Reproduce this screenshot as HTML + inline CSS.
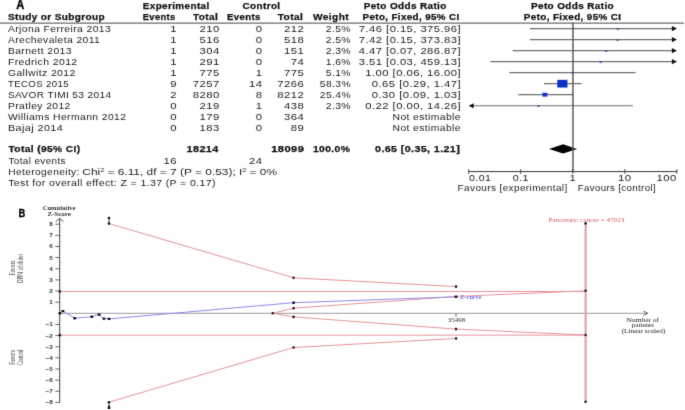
<!DOCTYPE html>
<html><head><meta charset="utf-8"><style>
html,body{margin:0;padding:0;background:#fff;}
body{width:685px;height:410px;overflow:hidden;font-family:"Liberation Sans",sans-serif;}
svg{display:block;}
</style></head><body>
<svg width="685" height="410" viewBox="0 0 685 410">
<defs><filter id="bl" x="0" y="0" width="1" height="1" filterUnits="objectBoundingBox"><feConvolveMatrix order="3" kernelMatrix="1 8 1 8 64 8 1 8 1" divisor="100" edgeMode="duplicate"/></filter></defs>
<rect width="685" height="410" fill="#fff"/>
<g filter="url(#bl)">
<text x="16.20" y="8.80" font-family='"Liberation Sans", sans-serif' font-size="12" font-weight="bold" fill="#000" textLength="8.00" lengthAdjust="spacingAndGlyphs" stroke="#000" stroke-width="0.35">A</text>
<text x="142.80" y="8.80" font-family='"Liberation Sans", sans-serif' font-size="9.2" font-weight="bold" fill="#111" textLength="66.80" lengthAdjust="spacingAndGlyphs" letter-spacing="0.35" stroke="#111" stroke-width="0.25">Experimental</text>
<text x="242.50" y="8.80" font-family='"Liberation Sans", sans-serif' font-size="9.2" font-weight="bold" fill="#111" textLength="38.00" lengthAdjust="spacingAndGlyphs" letter-spacing="0.35" stroke="#111" stroke-width="0.25">Control</text>
<text x="363.70" y="8.80" font-family='"Liberation Sans", sans-serif' font-size="9.2" font-weight="bold" fill="#111" textLength="83.00" lengthAdjust="spacingAndGlyphs" letter-spacing="0.35" stroke="#111" stroke-width="0.25">Peto Odds Ratio</text>
<text x="531.00" y="8.80" font-family='"Liberation Sans", sans-serif' font-size="9.2" font-weight="bold" fill="#111" textLength="83.00" lengthAdjust="spacingAndGlyphs" letter-spacing="0.35" stroke="#111" stroke-width="0.25">Peto Odds Ratio</text>
<text x="7.90" y="20.00" font-family='"Liberation Sans", sans-serif' font-size="9.2" font-weight="bold" fill="#111" textLength="97.10" lengthAdjust="spacingAndGlyphs" letter-spacing="0.35" stroke="#111" stroke-width="0.25">Study or Subgroup</text>
<text x="142.80" y="20.00" font-family='"Liberation Sans", sans-serif' font-size="9.2" font-weight="bold" fill="#111" textLength="32.70" lengthAdjust="spacingAndGlyphs" letter-spacing="0.35" stroke="#111" stroke-width="0.25">Events</text>
<text x="193.00" y="20.00" font-family='"Liberation Sans", sans-serif' font-size="9.2" font-weight="bold" fill="#111" textLength="25.30" lengthAdjust="spacingAndGlyphs" letter-spacing="0.35" stroke="#111" stroke-width="0.25">Total</text>
<text x="227.00" y="20.00" font-family='"Liberation Sans", sans-serif' font-size="9.2" font-weight="bold" fill="#111" textLength="33.70" lengthAdjust="spacingAndGlyphs" letter-spacing="0.35" stroke="#111" stroke-width="0.25">Events</text>
<text x="277.80" y="20.00" font-family='"Liberation Sans", sans-serif' font-size="9.2" font-weight="bold" fill="#111" textLength="25.40" lengthAdjust="spacingAndGlyphs" letter-spacing="0.35" stroke="#111" stroke-width="0.25">Total</text>
<text x="313.00" y="20.00" font-family='"Liberation Sans", sans-serif' font-size="9.2" font-weight="bold" fill="#111" textLength="36.00" lengthAdjust="spacingAndGlyphs" letter-spacing="0.35" stroke="#111" stroke-width="0.25">Weight</text>
<text x="362.60" y="20.00" font-family='"Liberation Sans", sans-serif' font-size="9.2" font-weight="bold" fill="#111" textLength="96.90" lengthAdjust="spacingAndGlyphs" letter-spacing="0.35" stroke="#111" stroke-width="0.25">Peto, Fixed, 95% CI</text>
<text x="523.80" y="20.00" font-family='"Liberation Sans", sans-serif' font-size="9.2" font-weight="bold" fill="#111" textLength="97.70" lengthAdjust="spacingAndGlyphs" letter-spacing="0.35" stroke="#111" stroke-width="0.25">Peto, Fixed, 95% CI</text>
<rect x="0" y="22.6" width="684" height="1.0" fill="#444"/>
<text x="7.90" y="32.10" font-family='"Liberation Sans", sans-serif' font-size="9.2" font-weight="normal" fill="#1e1e1e" textLength="103.30" lengthAdjust="spacingAndGlyphs" letter-spacing="0.35">Arjona Ferreira 2013</text>
<text x="170.26" y="32.10" font-family='"Liberation Sans", sans-serif' font-size="9.2" font-weight="normal" fill="#1e1e1e" textLength="6.74" lengthAdjust="spacingAndGlyphs" letter-spacing="0.35">1</text>
<text x="199.58" y="32.10" font-family='"Liberation Sans", sans-serif' font-size="9.2" font-weight="normal" fill="#1e1e1e" textLength="20.22" lengthAdjust="spacingAndGlyphs" letter-spacing="0.35">210</text>
<text x="255.86" y="32.10" font-family='"Liberation Sans", sans-serif' font-size="9.2" font-weight="normal" fill="#1e1e1e" textLength="6.74" lengthAdjust="spacingAndGlyphs" letter-spacing="0.35">0</text>
<text x="284.08" y="32.10" font-family='"Liberation Sans", sans-serif' font-size="9.2" font-weight="normal" fill="#1e1e1e" textLength="20.22" lengthAdjust="spacingAndGlyphs" letter-spacing="0.35">212</text>
<text x="325.72" y="32.10" font-family='"Liberation Sans", sans-serif' font-size="9.2" font-weight="normal" fill="#1e1e1e" textLength="25.28" lengthAdjust="spacingAndGlyphs" letter-spacing="0.35">2.5%</text>
<text x="358.89" y="32.10" font-family='"Liberation Sans", sans-serif' font-size="9.2" font-weight="normal" fill="#1e1e1e" textLength="102.11" lengthAdjust="spacingAndGlyphs" letter-spacing="0.35">7.46 [0.15, 375.96]</text>
<line x1="529.92" y1="28.60" x2="672.90" y2="28.60" stroke="#6e6e6e" stroke-width="1.2"/>
<path d="M676.90,28.60 L671.90,26.00 L671.90,31.20 Z" fill="#111"/>
<rect x="616.53" y="28.35" width="2.40" height="1.30" fill="#3535b0"/>
<text x="7.90" y="43.12" font-family='"Liberation Sans", sans-serif' font-size="9.2" font-weight="normal" fill="#1e1e1e" textLength="92.40" lengthAdjust="spacingAndGlyphs" letter-spacing="0.35">Arechevaleta 2011</text>
<text x="170.26" y="43.12" font-family='"Liberation Sans", sans-serif' font-size="9.2" font-weight="normal" fill="#1e1e1e" textLength="6.74" lengthAdjust="spacingAndGlyphs" letter-spacing="0.35">1</text>
<text x="199.58" y="43.12" font-family='"Liberation Sans", sans-serif' font-size="9.2" font-weight="normal" fill="#1e1e1e" textLength="20.22" lengthAdjust="spacingAndGlyphs" letter-spacing="0.35">516</text>
<text x="255.86" y="43.12" font-family='"Liberation Sans", sans-serif' font-size="9.2" font-weight="normal" fill="#1e1e1e" textLength="6.74" lengthAdjust="spacingAndGlyphs" letter-spacing="0.35">0</text>
<text x="284.08" y="43.12" font-family='"Liberation Sans", sans-serif' font-size="9.2" font-weight="normal" fill="#1e1e1e" textLength="20.22" lengthAdjust="spacingAndGlyphs" letter-spacing="0.35">518</text>
<text x="325.72" y="43.12" font-family='"Liberation Sans", sans-serif' font-size="9.2" font-weight="normal" fill="#1e1e1e" textLength="25.28" lengthAdjust="spacingAndGlyphs" letter-spacing="0.35">2.5%</text>
<text x="358.89" y="43.12" font-family='"Liberation Sans", sans-serif' font-size="9.2" font-weight="normal" fill="#1e1e1e" textLength="102.11" lengthAdjust="spacingAndGlyphs" letter-spacing="0.35">7.42 [0.15, 373.83]</text>
<line x1="529.92" y1="39.62" x2="672.90" y2="39.62" stroke="#6e6e6e" stroke-width="1.2"/>
<path d="M676.90,39.62 L671.90,37.02 L671.90,42.22 Z" fill="#111"/>
<rect x="616.40" y="39.37" width="2.40" height="1.30" fill="#3535b0"/>
<text x="7.90" y="54.14" font-family='"Liberation Sans", sans-serif' font-size="9.2" font-weight="normal" fill="#1e1e1e" textLength="64.00" lengthAdjust="spacingAndGlyphs" letter-spacing="0.35">Barnett 2013</text>
<text x="170.26" y="54.14" font-family='"Liberation Sans", sans-serif' font-size="9.2" font-weight="normal" fill="#1e1e1e" textLength="6.74" lengthAdjust="spacingAndGlyphs" letter-spacing="0.35">1</text>
<text x="199.58" y="54.14" font-family='"Liberation Sans", sans-serif' font-size="9.2" font-weight="normal" fill="#1e1e1e" textLength="20.22" lengthAdjust="spacingAndGlyphs" letter-spacing="0.35">304</text>
<text x="255.86" y="54.14" font-family='"Liberation Sans", sans-serif' font-size="9.2" font-weight="normal" fill="#1e1e1e" textLength="6.74" lengthAdjust="spacingAndGlyphs" letter-spacing="0.35">0</text>
<text x="284.08" y="54.14" font-family='"Liberation Sans", sans-serif' font-size="9.2" font-weight="normal" fill="#1e1e1e" textLength="20.22" lengthAdjust="spacingAndGlyphs" letter-spacing="0.35">151</text>
<text x="325.72" y="54.14" font-family='"Liberation Sans", sans-serif' font-size="9.2" font-weight="normal" fill="#1e1e1e" textLength="25.28" lengthAdjust="spacingAndGlyphs" letter-spacing="0.35">2.3%</text>
<text x="358.89" y="54.14" font-family='"Liberation Sans", sans-serif' font-size="9.2" font-weight="normal" fill="#1e1e1e" textLength="102.11" lengthAdjust="spacingAndGlyphs" letter-spacing="0.35">4.47 [0.07, 286.87]</text>
<line x1="512.69" y1="50.64" x2="672.90" y2="50.64" stroke="#6e6e6e" stroke-width="1.2"/>
<path d="M676.90,50.64 L671.90,48.04 L671.90,53.24 Z" fill="#111"/>
<rect x="604.95" y="50.39" width="2.40" height="1.30" fill="#3535b0"/>
<text x="7.90" y="65.16" font-family='"Liberation Sans", sans-serif' font-size="9.2" font-weight="normal" fill="#1e1e1e" textLength="69.70" lengthAdjust="spacingAndGlyphs" letter-spacing="0.35">Fredrich 2012</text>
<text x="170.26" y="65.16" font-family='"Liberation Sans", sans-serif' font-size="9.2" font-weight="normal" fill="#1e1e1e" textLength="6.74" lengthAdjust="spacingAndGlyphs" letter-spacing="0.35">1</text>
<text x="199.58" y="65.16" font-family='"Liberation Sans", sans-serif' font-size="9.2" font-weight="normal" fill="#1e1e1e" textLength="20.22" lengthAdjust="spacingAndGlyphs" letter-spacing="0.35">291</text>
<text x="255.86" y="65.16" font-family='"Liberation Sans", sans-serif' font-size="9.2" font-weight="normal" fill="#1e1e1e" textLength="6.74" lengthAdjust="spacingAndGlyphs" letter-spacing="0.35">0</text>
<text x="290.82" y="65.16" font-family='"Liberation Sans", sans-serif' font-size="9.2" font-weight="normal" fill="#1e1e1e" textLength="13.48" lengthAdjust="spacingAndGlyphs" letter-spacing="0.35">74</text>
<text x="325.72" y="65.16" font-family='"Liberation Sans", sans-serif' font-size="9.2" font-weight="normal" fill="#1e1e1e" textLength="25.28" lengthAdjust="spacingAndGlyphs" letter-spacing="0.35">1.6%</text>
<text x="358.89" y="65.16" font-family='"Liberation Sans", sans-serif' font-size="9.2" font-weight="normal" fill="#1e1e1e" textLength="102.11" lengthAdjust="spacingAndGlyphs" letter-spacing="0.35">3.51 [0.03, 459.13]</text>
<line x1="490.50" y1="61.66" x2="672.90" y2="61.66" stroke="#6e6e6e" stroke-width="1.2"/>
<path d="M676.90,61.66 L671.90,59.06 L671.90,64.26 Z" fill="#111"/>
<rect x="599.48" y="61.41" width="2.40" height="1.30" fill="#3535b0"/>
<text x="7.90" y="76.18" font-family='"Liberation Sans", sans-serif' font-size="9.2" font-weight="normal" fill="#1e1e1e" textLength="67.80" lengthAdjust="spacingAndGlyphs" letter-spacing="0.35">Gallwitz 2012</text>
<text x="170.26" y="76.18" font-family='"Liberation Sans", sans-serif' font-size="9.2" font-weight="normal" fill="#1e1e1e" textLength="6.74" lengthAdjust="spacingAndGlyphs" letter-spacing="0.35">1</text>
<text x="199.58" y="76.18" font-family='"Liberation Sans", sans-serif' font-size="9.2" font-weight="normal" fill="#1e1e1e" textLength="20.22" lengthAdjust="spacingAndGlyphs" letter-spacing="0.35">775</text>
<text x="255.86" y="76.18" font-family='"Liberation Sans", sans-serif' font-size="9.2" font-weight="normal" fill="#1e1e1e" textLength="6.74" lengthAdjust="spacingAndGlyphs" letter-spacing="0.35">1</text>
<text x="284.08" y="76.18" font-family='"Liberation Sans", sans-serif' font-size="9.2" font-weight="normal" fill="#1e1e1e" textLength="20.22" lengthAdjust="spacingAndGlyphs" letter-spacing="0.35">775</text>
<text x="325.72" y="76.18" font-family='"Liberation Sans", sans-serif' font-size="9.2" font-weight="normal" fill="#1e1e1e" textLength="25.28" lengthAdjust="spacingAndGlyphs" letter-spacing="0.35">5.1%</text>
<text x="365.34" y="76.18" font-family='"Liberation Sans", sans-serif' font-size="9.2" font-weight="normal" fill="#1e1e1e" textLength="95.66" lengthAdjust="spacingAndGlyphs" letter-spacing="0.35">1.00 [0.06, 16.00]</text>
<line x1="509.20" y1="72.68" x2="635.47" y2="72.68" stroke="#6e6e6e" stroke-width="1.2"/>
<rect x="571.60" y="72.43" width="2.40" height="1.30" fill="#3535b0"/>
<text x="7.90" y="87.20" font-family='"Liberation Sans", sans-serif' font-size="9.2" font-weight="normal" fill="#1e1e1e" textLength="61.20" lengthAdjust="spacingAndGlyphs" letter-spacing="0.35">TECOS 2015</text>
<text x="170.26" y="87.20" font-family='"Liberation Sans", sans-serif' font-size="9.2" font-weight="normal" fill="#1e1e1e" textLength="6.74" lengthAdjust="spacingAndGlyphs" letter-spacing="0.35">9</text>
<text x="192.84" y="87.20" font-family='"Liberation Sans", sans-serif' font-size="9.2" font-weight="normal" fill="#1e1e1e" textLength="26.96" lengthAdjust="spacingAndGlyphs" letter-spacing="0.35">7257</text>
<text x="249.12" y="87.20" font-family='"Liberation Sans", sans-serif' font-size="9.2" font-weight="normal" fill="#1e1e1e" textLength="13.48" lengthAdjust="spacingAndGlyphs" letter-spacing="0.35">14</text>
<text x="277.34" y="87.20" font-family='"Liberation Sans", sans-serif' font-size="9.2" font-weight="normal" fill="#1e1e1e" textLength="26.96" lengthAdjust="spacingAndGlyphs" letter-spacing="0.35">7266</text>
<text x="319.81" y="87.20" font-family='"Liberation Sans", sans-serif' font-size="9.2" font-weight="normal" fill="#1e1e1e" textLength="31.19" lengthAdjust="spacingAndGlyphs" letter-spacing="0.35">58.3%</text>
<text x="371.79" y="87.20" font-family='"Liberation Sans", sans-serif' font-size="9.2" font-weight="normal" fill="#1e1e1e" textLength="89.21" lengthAdjust="spacingAndGlyphs" letter-spacing="0.35">0.65 [0.29, 1.47]</text>
<line x1="544.00" y1="83.70" x2="581.51" y2="83.70" stroke="#6e6e6e" stroke-width="1.2"/>
<rect x="557.26" y="79.85" width="10.20" height="7.70" fill="#1030c8"/>
<text x="7.90" y="98.22" font-family='"Liberation Sans", sans-serif' font-size="9.2" font-weight="normal" fill="#1e1e1e" textLength="103.60" lengthAdjust="spacingAndGlyphs" letter-spacing="0.35">SAVOR TIMI 53 2014</text>
<text x="170.26" y="98.22" font-family='"Liberation Sans", sans-serif' font-size="9.2" font-weight="normal" fill="#1e1e1e" textLength="6.74" lengthAdjust="spacingAndGlyphs" letter-spacing="0.35">2</text>
<text x="192.84" y="98.22" font-family='"Liberation Sans", sans-serif' font-size="9.2" font-weight="normal" fill="#1e1e1e" textLength="26.96" lengthAdjust="spacingAndGlyphs" letter-spacing="0.35">8280</text>
<text x="255.86" y="98.22" font-family='"Liberation Sans", sans-serif' font-size="9.2" font-weight="normal" fill="#1e1e1e" textLength="6.74" lengthAdjust="spacingAndGlyphs" letter-spacing="0.35">8</text>
<text x="277.34" y="98.22" font-family='"Liberation Sans", sans-serif' font-size="9.2" font-weight="normal" fill="#1e1e1e" textLength="26.96" lengthAdjust="spacingAndGlyphs" letter-spacing="0.35">8212</text>
<text x="319.81" y="98.22" font-family='"Liberation Sans", sans-serif' font-size="9.2" font-weight="normal" fill="#1e1e1e" textLength="31.19" lengthAdjust="spacingAndGlyphs" letter-spacing="0.35">25.4%</text>
<text x="371.79" y="98.22" font-family='"Liberation Sans", sans-serif' font-size="9.2" font-weight="normal" fill="#1e1e1e" textLength="89.21" lengthAdjust="spacingAndGlyphs" letter-spacing="0.35">0.30 [0.09, 1.03]</text>
<line x1="518.37" y1="94.72" x2="573.47" y2="94.72" stroke="#6e6e6e" stroke-width="1.2"/>
<rect x="542.38" y="92.82" width="5.00" height="3.80" fill="#1030c8"/>
<text x="7.90" y="109.24" font-family='"Liberation Sans", sans-serif' font-size="9.2" font-weight="normal" fill="#1e1e1e" textLength="62.85" lengthAdjust="spacingAndGlyphs" letter-spacing="0.35">Pratley 2012</text>
<text x="170.26" y="109.24" font-family='"Liberation Sans", sans-serif' font-size="9.2" font-weight="normal" fill="#1e1e1e" textLength="6.74" lengthAdjust="spacingAndGlyphs" letter-spacing="0.35">0</text>
<text x="199.58" y="109.24" font-family='"Liberation Sans", sans-serif' font-size="9.2" font-weight="normal" fill="#1e1e1e" textLength="20.22" lengthAdjust="spacingAndGlyphs" letter-spacing="0.35">219</text>
<text x="255.86" y="109.24" font-family='"Liberation Sans", sans-serif' font-size="9.2" font-weight="normal" fill="#1e1e1e" textLength="6.74" lengthAdjust="spacingAndGlyphs" letter-spacing="0.35">1</text>
<text x="284.08" y="109.24" font-family='"Liberation Sans", sans-serif' font-size="9.2" font-weight="normal" fill="#1e1e1e" textLength="20.22" lengthAdjust="spacingAndGlyphs" letter-spacing="0.35">438</text>
<text x="325.72" y="109.24" font-family='"Liberation Sans", sans-serif' font-size="9.2" font-weight="normal" fill="#1e1e1e" textLength="25.28" lengthAdjust="spacingAndGlyphs" letter-spacing="0.35">2.3%</text>
<text x="365.34" y="109.24" font-family='"Liberation Sans", sans-serif' font-size="9.2" font-weight="normal" fill="#1e1e1e" textLength="95.66" lengthAdjust="spacingAndGlyphs" letter-spacing="0.35">0.22 [0.00, 14.26]</text>
<line x1="472.70" y1="105.74" x2="632.87" y2="105.74" stroke="#6e6e6e" stroke-width="1.2"/>
<path d="M468.70,105.74 L473.70,103.14 L473.70,108.34 Z" fill="#111"/>
<rect x="537.37" y="105.49" width="2.40" height="1.30" fill="#3535b0"/>
<text x="7.90" y="120.26" font-family='"Liberation Sans", sans-serif' font-size="9.2" font-weight="normal" fill="#1e1e1e" textLength="118.58" lengthAdjust="spacingAndGlyphs" letter-spacing="0.35">Williams Hermann 2012</text>
<text x="170.26" y="120.26" font-family='"Liberation Sans", sans-serif' font-size="9.2" font-weight="normal" fill="#1e1e1e" textLength="6.74" lengthAdjust="spacingAndGlyphs" letter-spacing="0.35">0</text>
<text x="199.58" y="120.26" font-family='"Liberation Sans", sans-serif' font-size="9.2" font-weight="normal" fill="#1e1e1e" textLength="20.22" lengthAdjust="spacingAndGlyphs" letter-spacing="0.35">179</text>
<text x="255.86" y="120.26" font-family='"Liberation Sans", sans-serif' font-size="9.2" font-weight="normal" fill="#1e1e1e" textLength="6.74" lengthAdjust="spacingAndGlyphs" letter-spacing="0.35">0</text>
<text x="284.08" y="120.26" font-family='"Liberation Sans", sans-serif' font-size="9.2" font-weight="normal" fill="#1e1e1e" textLength="20.22" lengthAdjust="spacingAndGlyphs" letter-spacing="0.35">364</text>
<text x="392.53" y="120.26" font-family='"Liberation Sans", sans-serif' font-size="9.2" font-weight="normal" fill="#1e1e1e" textLength="68.47" lengthAdjust="spacingAndGlyphs" letter-spacing="0.35">Not estimable</text>
<text x="7.90" y="131.28" font-family='"Liberation Sans", sans-serif' font-size="9.2" font-weight="normal" fill="#1e1e1e" textLength="55.30" lengthAdjust="spacingAndGlyphs" letter-spacing="0.35">Bajaj 2014</text>
<text x="170.26" y="131.28" font-family='"Liberation Sans", sans-serif' font-size="9.2" font-weight="normal" fill="#1e1e1e" textLength="6.74" lengthAdjust="spacingAndGlyphs" letter-spacing="0.35">0</text>
<text x="199.58" y="131.28" font-family='"Liberation Sans", sans-serif' font-size="9.2" font-weight="normal" fill="#1e1e1e" textLength="20.22" lengthAdjust="spacingAndGlyphs" letter-spacing="0.35">183</text>
<text x="255.86" y="131.28" font-family='"Liberation Sans", sans-serif' font-size="9.2" font-weight="normal" fill="#1e1e1e" textLength="6.74" lengthAdjust="spacingAndGlyphs" letter-spacing="0.35">0</text>
<text x="290.82" y="131.28" font-family='"Liberation Sans", sans-serif' font-size="9.2" font-weight="normal" fill="#1e1e1e" textLength="13.48" lengthAdjust="spacingAndGlyphs" letter-spacing="0.35">89</text>
<text x="392.53" y="131.28" font-family='"Liberation Sans", sans-serif' font-size="9.2" font-weight="normal" fill="#1e1e1e" textLength="68.47" lengthAdjust="spacingAndGlyphs" letter-spacing="0.35">Not estimable</text>
<text x="8.50" y="151.80" font-family='"Liberation Sans", sans-serif' font-size="9.2" font-weight="bold" fill="#111" textLength="72.00" lengthAdjust="spacingAndGlyphs" letter-spacing="0.35" stroke="#111" stroke-width="0.25">Total (95% CI)</text>
<text x="186.50" y="151.80" font-family='"Liberation Sans", sans-serif' font-size="9.2" font-weight="bold" fill="#111" textLength="32.30" lengthAdjust="spacingAndGlyphs" letter-spacing="0.35" stroke="#111" stroke-width="0.25">18214</text>
<text x="271.20" y="151.80" font-family='"Liberation Sans", sans-serif' font-size="9.2" font-weight="bold" fill="#111" textLength="33.20" lengthAdjust="spacingAndGlyphs" letter-spacing="0.35" stroke="#111" stroke-width="0.25">18099</text>
<text x="313.00" y="151.80" font-family='"Liberation Sans", sans-serif' font-size="9.2" font-weight="bold" fill="#111" textLength="37.30" lengthAdjust="spacingAndGlyphs" letter-spacing="0.35" stroke="#111" stroke-width="0.25">100.0%</text>
<text x="375.10" y="151.80" font-family='"Liberation Sans", sans-serif' font-size="9.2" font-weight="bold" fill="#111" textLength="85.00" lengthAdjust="spacingAndGlyphs" letter-spacing="0.35" stroke="#111" stroke-width="0.25">0.65 [0.35, 1.21]</text>
<text x="8.50" y="164.00" font-family='"Liberation Sans", sans-serif' font-size="9.2" font-weight="normal" fill="#1e1e1e" textLength="57.40" lengthAdjust="spacingAndGlyphs" letter-spacing="0.35">Total events</text>
<text x="163.52" y="164.00" font-family='"Liberation Sans", sans-serif' font-size="9.2" font-weight="normal" fill="#1e1e1e" textLength="13.48" lengthAdjust="spacingAndGlyphs" letter-spacing="0.35">16</text>
<text x="249.12" y="164.00" font-family='"Liberation Sans", sans-serif' font-size="9.2" font-weight="normal" fill="#1e1e1e" textLength="13.48" lengthAdjust="spacingAndGlyphs" letter-spacing="0.35">24</text>
<text x="8.20" y="175.30" font-family='"Liberation Sans", sans-serif' font-size="9.2" font-weight="normal" fill="#1e1e1e" textLength="71.60" lengthAdjust="spacingAndGlyphs" letter-spacing="0.35">Heterogeneity:</text>
<text x="82.3" y="175.3" font-family='"Liberation Sans", sans-serif' font-size="9.2" fill="#1e1e1e" textLength="194.8" lengthAdjust="spacingAndGlyphs">Chi<tspan font-size="5.5" dy="-3.2">2</tspan><tspan dy="3.2"> = 6.11, df = 7 (P = 0.53); I</tspan><tspan font-size="5.5" dy="-3.2">2</tspan><tspan dy="3.2"> = 0%</tspan></text>
<text x="8.20" y="186.20" font-family='"Liberation Sans", sans-serif' font-size="9.2" font-weight="normal" fill="#1e1e1e" textLength="207.60" lengthAdjust="spacingAndGlyphs" letter-spacing="0.35">Test for overall effect: Z = 1.37 (P = 0.17)</text>
<path d="M549.07,148.9 L563.06,144.20000000000002 L577.11,148.9 L563.06,153.6 Z" fill="#000"/>
<rect x="572.2" y="22.5" width="1.5" height="149.5" fill="#5c5c5c"/>
<rect x="468.70" y="171.0" width="208.20" height="1.1" fill="#444"/>
<rect x="468.20" y="169.2" width="1" height="4.6" fill="#444"/>
<rect x="520.25" y="169.2" width="1" height="4.6" fill="#444"/>
<rect x="572.30" y="169.2" width="1" height="4.6" fill="#444"/>
<rect x="624.35" y="169.2" width="1" height="4.6" fill="#444"/>
<rect x="676.40" y="169.2" width="1" height="4.6" fill="#444"/>
<text x="469.00" y="181.30" font-family='"Liberation Sans", sans-serif' font-size="9.2" font-weight="normal" fill="#1e1e1e" textLength="22.37" lengthAdjust="spacingAndGlyphs" letter-spacing="0.35">0.01</text>
<text x="512.70" y="181.30" font-family='"Liberation Sans", sans-serif' font-size="9.2" font-weight="normal" fill="#1e1e1e" textLength="16.11" lengthAdjust="spacingAndGlyphs" letter-spacing="0.35">0.1</text>
<text x="569.43" y="181.30" font-family='"Liberation Sans", sans-serif' font-size="9.2" font-weight="normal" fill="#1e1e1e" textLength="6.74" lengthAdjust="spacingAndGlyphs" letter-spacing="0.35">1</text>
<text x="618.11" y="181.30" font-family='"Liberation Sans", sans-serif' font-size="9.2" font-weight="normal" fill="#1e1e1e" textLength="13.48" lengthAdjust="spacingAndGlyphs" letter-spacing="0.35">10</text>
<text x="656.58" y="181.30" font-family='"Liberation Sans", sans-serif' font-size="9.2" font-weight="normal" fill="#1e1e1e" textLength="20.22" lengthAdjust="spacingAndGlyphs" letter-spacing="0.35">100</text>
<text x="457.60" y="190.50" font-family='"Liberation Sans", sans-serif' font-size="9.2" font-weight="normal" fill="#1e1e1e" textLength="110.00" lengthAdjust="spacingAndGlyphs" letter-spacing="0.35">Favours [experimental]</text>
<text x="577.70" y="190.50" font-family='"Liberation Sans", sans-serif' font-size="9.2" font-weight="normal" fill="#1e1e1e" textLength="78.30" lengthAdjust="spacingAndGlyphs" letter-spacing="0.35">Favours [control]</text>
<text x="18.40" y="216.90" font-family='"Liberation Sans", sans-serif' font-size="10.5" font-weight="bold" fill="#000" textLength="6.80" lengthAdjust="spacingAndGlyphs" stroke="#000" stroke-width="0.3">B</text>
<text x="42.70" y="209.90" font-family='"Liberation Serif", serif' font-size="6.5" font-weight="bold" fill="#333" textLength="32.70" lengthAdjust="spacingAndGlyphs">Cumulative</text>
<text x="47.40" y="215.80" font-family='"Liberation Serif", serif' font-size="6.5" font-weight="bold" fill="#333" textLength="23.50" lengthAdjust="spacingAndGlyphs">Z-Score</text>
<line x1="59.7" y1="218.5" x2="59.7" y2="402.92" stroke="#444" stroke-width="1"/>
<path d="M55.8,221.8 L59.7,218.3 L63.5,221.8" fill="none" stroke="#444" stroke-width="0.9"/>
<line x1="55.3" y1="402.42" x2="59.7" y2="402.42" stroke="#555" stroke-width="0.9"/>
<text x="45.53" y="404.42" font-family='"Liberation Sans", sans-serif' font-size="5.8" font-weight="bold" fill="#333" textLength="7.27" lengthAdjust="spacingAndGlyphs">−8</text>
<line x1="55.3" y1="391.28" x2="59.7" y2="391.28" stroke="#555" stroke-width="0.9"/>
<text x="45.53" y="393.28" font-family='"Liberation Sans", sans-serif' font-size="5.8" font-weight="bold" fill="#333" textLength="7.27" lengthAdjust="spacingAndGlyphs">−7</text>
<line x1="55.3" y1="380.14" x2="59.7" y2="380.14" stroke="#555" stroke-width="0.9"/>
<text x="45.53" y="382.14" font-family='"Liberation Sans", sans-serif' font-size="5.8" font-weight="bold" fill="#333" textLength="7.27" lengthAdjust="spacingAndGlyphs">−6</text>
<line x1="55.3" y1="369.00" x2="59.7" y2="369.00" stroke="#555" stroke-width="0.9"/>
<text x="45.53" y="371.00" font-family='"Liberation Sans", sans-serif' font-size="5.8" font-weight="bold" fill="#333" textLength="7.27" lengthAdjust="spacingAndGlyphs">−5</text>
<line x1="55.3" y1="357.86" x2="59.7" y2="357.86" stroke="#555" stroke-width="0.9"/>
<text x="45.53" y="359.86" font-family='"Liberation Sans", sans-serif' font-size="5.8" font-weight="bold" fill="#333" textLength="7.27" lengthAdjust="spacingAndGlyphs">−4</text>
<line x1="55.3" y1="346.72" x2="59.7" y2="346.72" stroke="#555" stroke-width="0.9"/>
<text x="45.53" y="348.72" font-family='"Liberation Sans", sans-serif' font-size="5.8" font-weight="bold" fill="#333" textLength="7.27" lengthAdjust="spacingAndGlyphs">−3</text>
<line x1="55.3" y1="335.58" x2="59.7" y2="335.58" stroke="#555" stroke-width="0.9"/>
<text x="45.53" y="337.58" font-family='"Liberation Sans", sans-serif' font-size="5.8" font-weight="bold" fill="#333" textLength="7.27" lengthAdjust="spacingAndGlyphs">−2</text>
<line x1="55.3" y1="324.44" x2="59.7" y2="324.44" stroke="#555" stroke-width="0.9"/>
<text x="45.53" y="326.44" font-family='"Liberation Sans", sans-serif' font-size="5.8" font-weight="bold" fill="#333" textLength="7.27" lengthAdjust="spacingAndGlyphs">−1</text>
<line x1="55.3" y1="302.16" x2="59.7" y2="302.16" stroke="#555" stroke-width="0.9"/>
<text x="49.25" y="304.16" font-family='"Liberation Sans", sans-serif' font-size="5.8" font-weight="bold" fill="#333" textLength="3.55" lengthAdjust="spacingAndGlyphs">1</text>
<line x1="55.3" y1="291.02" x2="59.7" y2="291.02" stroke="#555" stroke-width="0.9"/>
<text x="49.25" y="293.02" font-family='"Liberation Sans", sans-serif' font-size="5.8" font-weight="bold" fill="#333" textLength="3.55" lengthAdjust="spacingAndGlyphs">2</text>
<line x1="55.3" y1="279.88" x2="59.7" y2="279.88" stroke="#555" stroke-width="0.9"/>
<text x="49.25" y="281.88" font-family='"Liberation Sans", sans-serif' font-size="5.8" font-weight="bold" fill="#333" textLength="3.55" lengthAdjust="spacingAndGlyphs">3</text>
<line x1="55.3" y1="268.74" x2="59.7" y2="268.74" stroke="#555" stroke-width="0.9"/>
<text x="49.25" y="270.74" font-family='"Liberation Sans", sans-serif' font-size="5.8" font-weight="bold" fill="#333" textLength="3.55" lengthAdjust="spacingAndGlyphs">4</text>
<line x1="55.3" y1="257.60" x2="59.7" y2="257.60" stroke="#555" stroke-width="0.9"/>
<text x="49.25" y="259.60" font-family='"Liberation Sans", sans-serif' font-size="5.8" font-weight="bold" fill="#333" textLength="3.55" lengthAdjust="spacingAndGlyphs">5</text>
<line x1="55.3" y1="246.46" x2="59.7" y2="246.46" stroke="#555" stroke-width="0.9"/>
<text x="49.25" y="248.46" font-family='"Liberation Sans", sans-serif' font-size="5.8" font-weight="bold" fill="#333" textLength="3.55" lengthAdjust="spacingAndGlyphs">6</text>
<line x1="55.3" y1="235.32" x2="59.7" y2="235.32" stroke="#555" stroke-width="0.9"/>
<text x="49.25" y="237.32" font-family='"Liberation Sans", sans-serif' font-size="5.8" font-weight="bold" fill="#333" textLength="3.55" lengthAdjust="spacingAndGlyphs">7</text>
<line x1="55.3" y1="224.18" x2="59.7" y2="224.18" stroke="#555" stroke-width="0.9"/>
<text x="49.25" y="226.18" font-family='"Liberation Sans", sans-serif' font-size="5.8" font-weight="bold" fill="#333" textLength="3.55" lengthAdjust="spacingAndGlyphs">8</text>
<text transform="translate(14.70,268.10) rotate(-90)" x="-7.65" y="0" font-family='"Liberation Serif", serif' font-size="7.3" fill="#383838" textLength="15.30" lengthAdjust="spacingAndGlyphs">Favors</text>
<text transform="translate(23.00,268.50) rotate(-90)" x="-14.60" y="0" font-family='"Liberation Serif", serif' font-size="8.0" fill="#383838" textLength="29.20" lengthAdjust="spacingAndGlyphs">DPP4 inhibitor</text>
<text transform="translate(14.90,357.50) rotate(-90)" x="-7.35" y="0" font-family='"Liberation Serif", serif' font-size="7.3" fill="#383838" textLength="14.70" lengthAdjust="spacingAndGlyphs">Favors</text>
<text transform="translate(23.20,357.50) rotate(-90)" x="-7.95" y="0" font-family='"Liberation Serif", serif' font-size="7.3" fill="#383838" textLength="15.90" lengthAdjust="spacingAndGlyphs">Control</text>
<line x1="59.7" y1="313.30" x2="647.5" y2="313.30" stroke="#9a9a9a" stroke-width="1"/>
<path d="M643.3,311.10 L647.8,313.30 L643.3,315.50" fill="none" stroke="#555" stroke-width="0.9"/>
<line x1="456" y1="313.30" x2="456" y2="316.80" stroke="#555" stroke-width="0.9"/>
<text x="447.70" y="322.20" font-family='"Liberation Serif", serif' font-size="6.5" font-weight="normal" fill="#333" textLength="17.50" lengthAdjust="spacingAndGlyphs">35498</text>
<text x="626.60" y="321.80" font-family='"Liberation Serif", serif' font-size="6.5" font-weight="normal" fill="#222" textLength="32.40" lengthAdjust="spacingAndGlyphs">Number of</text>
<text x="631.80" y="327.40" font-family='"Liberation Serif", serif' font-size="6.5" font-weight="normal" fill="#222" textLength="22.00" lengthAdjust="spacingAndGlyphs">patients</text>
<text x="621.70" y="333.10" font-family='"Liberation Serif", serif' font-size="6.5" font-weight="normal" fill="#222" textLength="43.60" lengthAdjust="spacingAndGlyphs">(Linear scaled)</text>
<line x1="59.7" y1="291.47" x2="585.6" y2="291.47" stroke="#e6959b" stroke-width="1"/>
<line x1="59.7" y1="335.13" x2="585.6" y2="335.13" stroke="#e6959b" stroke-width="1"/>
<polyline points="109.00,223.60 293.60,277.80 456.00,286.60" fill="none" stroke="#e6959b" stroke-width="1"/>
<polyline points="109.00,402.20 293.60,347.50 456.00,338.50" fill="none" stroke="#e6959b" stroke-width="1"/>
<polyline points="272.80,313.20 293.60,308.20 456.00,296.50 585.60,290.80" fill="none" stroke="#e6959b" stroke-width="1"/>
<polyline points="272.80,313.20 293.60,316.90 456.00,329.10 585.60,335.00" fill="none" stroke="#e6959b" stroke-width="1"/>
<line x1="585.6" y1="223.2" x2="585.6" y2="401.8" stroke="#e29aa1" stroke-width="2"/>
<text x="548.40" y="222.40" font-family='"Liberation Serif", serif' font-size="6.5" font-weight="normal" fill="#cf6068" textLength="76.00" lengthAdjust="spacingAndGlyphs">Pancreatic cancer = 47023</text>
<polyline points="59.90,313.30 62.90,311.10 74.70,318.20 91.80,316.70 99.10,314.50 103.90,318.60 109.00,318.90 293.60,302.70 456.00,296.80" fill="none" stroke="#8c8cea" stroke-width="1"/>
<text x="460.00" y="299.30" font-family='"Liberation Serif", serif' font-size="6.8" font-weight="normal" fill="#3a3ad0" textLength="21.60" lengthAdjust="spacingAndGlyphs">Z-curve</text>
<circle cx="109" cy="218.0" r="1.3" fill="#111"/>
<circle cx="109" cy="223.6" r="1.3" fill="#111"/>
<circle cx="109" cy="402.2" r="1.3" fill="#111"/>
<circle cx="109" cy="407.0" r="1.3" fill="#111"/>
<circle cx="293.6" cy="277.8" r="1.3" fill="#111"/>
<circle cx="456" cy="286.6" r="1.3" fill="#111"/>
<circle cx="585.6" cy="223.4" r="1.3" fill="#111"/>
<circle cx="585.6" cy="290.8" r="1.3" fill="#111"/>
<circle cx="585.6" cy="335.0" r="1.3" fill="#111"/>
<circle cx="585.6" cy="401.8" r="1.3" fill="#111"/>
<circle cx="456" cy="329.1" r="1.3" fill="#111"/>
<circle cx="456" cy="338.5" r="1.3" fill="#111"/>
<circle cx="293.6" cy="347.5" r="1.3" fill="#111"/>
<circle cx="272.8" cy="313.2" r="1.3" fill="#111"/>
<circle cx="293.6" cy="308.2" r="1.3" fill="#111"/>
<circle cx="293.6" cy="316.9" r="1.3" fill="#111"/>
<circle cx="59.9" cy="291.4656" r="1.3" fill="#111"/>
<circle cx="59.9" cy="335.1344" r="1.3" fill="#111"/>
<rect x="58.40" y="312.10" width="3" height="2.4" rx="0.8" fill="#111"/>
<rect x="61.40" y="309.90" width="3" height="2.4" rx="0.8" fill="#111"/>
<rect x="73.20" y="317.00" width="3" height="2.4" rx="0.8" fill="#111"/>
<rect x="90.30" y="315.50" width="3" height="2.4" rx="0.8" fill="#111"/>
<rect x="97.60" y="313.30" width="3" height="2.4" rx="0.8" fill="#111"/>
<rect x="102.40" y="317.40" width="3" height="2.4" rx="0.8" fill="#111"/>
<rect x="107.50" y="317.70" width="3" height="2.4" rx="0.8" fill="#111"/>
<rect x="292.10" y="301.50" width="3" height="2.4" rx="0.8" fill="#111"/>
<rect x="454.50" y="295.60" width="3" height="2.4" rx="0.8" fill="#111"/>
<line x1="109" y1="218" x2="109" y2="223.6" stroke="#111" stroke-width="0.8"/>
<line x1="109" y1="402.2" x2="109" y2="407" stroke="#111" stroke-width="0.8"/>
</g>
</svg>
</body></html>
